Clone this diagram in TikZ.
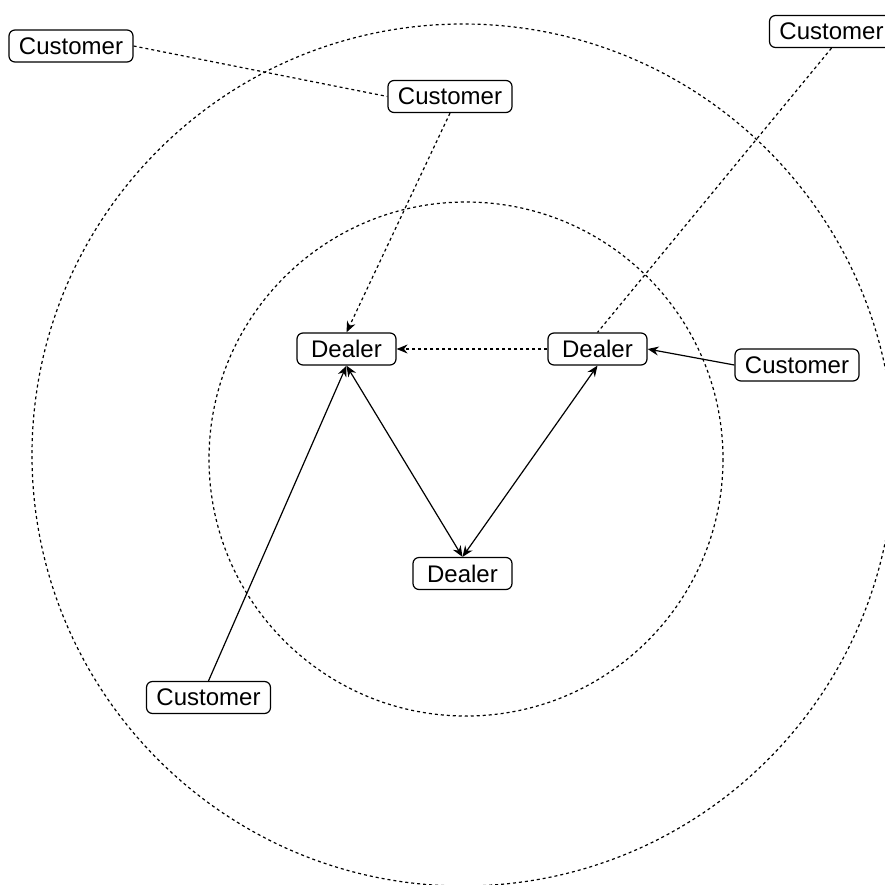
\documentclass[tikz,border=0pt]{standalone}
\usepackage{fontspec}
\setmainfont{Liberation Sans}
\usetikzlibrary{arrows.meta}

\begin{document}
\begin{tikzpicture}[x=0.5pt, y=-0.5pt]
   \tikzstyle{every node}=[draw, fill=white, rounded corners=3pt, line width=0.6pt, font=\fontsize{12}{14}\selectfont, inner xsep=5pt, inner ysep=0pt, minimum width=49.5pt, minimum height=16pt]
   \tikzstyle{ring}=[line width=0.6pt, dash pattern=on 1.5pt off 1.5pt]
   \tikzstyle{link}=[ring]
   \tikzstyle{tip}=[-{Stealth[length=5.5pt, width=4.5pt, inset=1.8pt]}]
   \tikzstyle{flow}=[line width=0.6pt, tip]
   \tikzstyle{twoway}=[line width=0.6pt, {Stealth[length=5.5pt, width=4.5pt, inset=1.8pt]}-{Stealth[length=5.5pt, width=4.5pt, inset=1.8pt]}]

   \useasboundingbox (0,0) rectangle (885,885);

   % the two rings
   \draw[ring] (463,455) circle[radius=431];
   \draw[ring] (466,459) circle[radius=257];

   % dealers
   \node (d1) at (346.5,349) {Dealer};
   \node (d2) at (597.5,349) {Dealer};
   \node (d3) at (462.5,573.5) {Dealer};

   % customers
   \node (c1) at (71,46) {Customer};
   \node (c2) at (450,96.5) {Customer};
   \node (c3) at (831.5,31.5) {Customer};
   \node (c4) at (797,365) {Customer};
   \node (c5) at (208.5,697.5) {Customer};

   \draw[link] (c1.east) -- (c2.west);
   \draw[link, tip] (c2.south) -- (d1.north);
   \draw[link, tip] (d2.west) -- (d1.east);
   \draw[link] (c3.south) -- (d2.north);
   \draw[flow] (c4.west) -- (d2.east);
   \draw[flow] (c5.north) -- (d1.south);
   \draw[twoway] (d1.south) -- (d3.north);
   \draw[twoway] (d2.south) -- (d3.north);

\end{tikzpicture}
\end{document}
